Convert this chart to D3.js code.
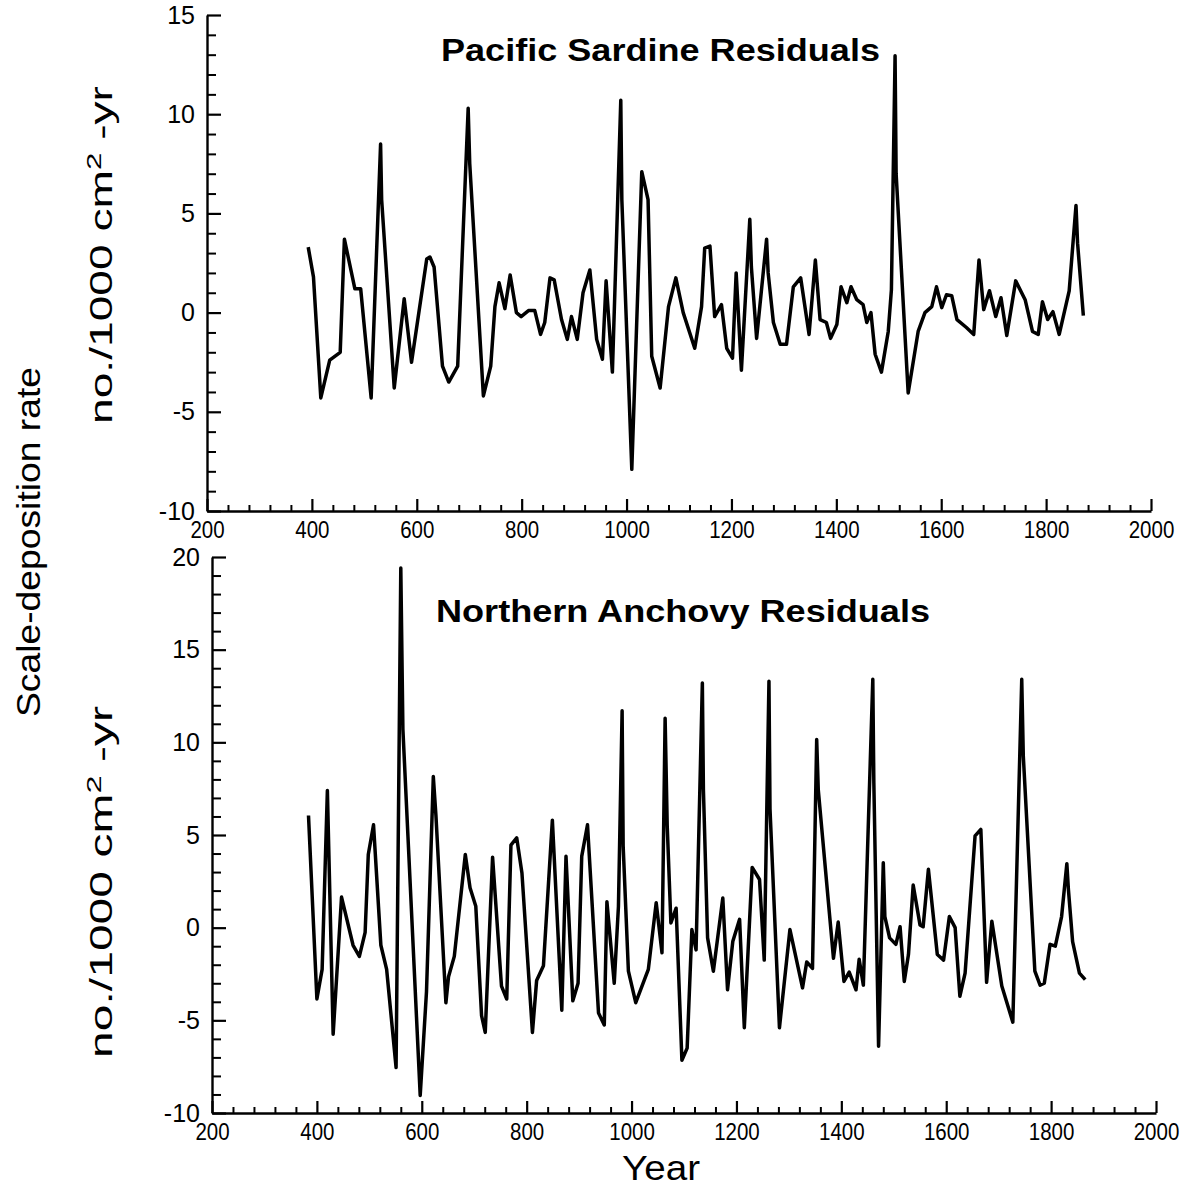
<!DOCTYPE html>
<html>
<head>
<meta charset="utf-8">
<script src="https://cdn.jsdelivr.net/npm/d3@7"></script>
<style>
  html, body { margin: 0; padding: 0; background: #fff; }
  svg { display: block; }
  text { font-family: "Liberation Sans", Arial, Helvetica, sans-serif; fill: #000; }
</style>
</head>
<body>
<svg id="chart" width="1188" height="1189"></svg>
<script>
// ---------------- DATA ----------------
const xTickValues = [200, 400, 600, 800, 1000, 1200, 1400, 1600, 1800, 2000];
const sardineYTicks = [-10, -5, 0, 5, 10, 15];
const anchovyYTicks = [-10, -5, 0, 5, 10, 15, 20];

const sardineYears = [393,403,417,434,454,462,482,493,513,531,533,557,576,590,619,625,633,649,661,678,698,701,727,741,749,757,768,778,790,799,813,825,836,844,854,862,876,887,895,906,917,930,943,954,961,973,989,991,1010,1029,1041,1048,1064,1080,1094,1108,1130,1143,1149,1159,1168,1181,1191,1202,1209,1219,1235,1238,1248,1267,1270,1280,1293,1305,1318,1332,1348,1360,1369,1381,1389,1401,1409,1420,1428,1439,1451,1458,1466,1474,1486,1499,1505,1512,1514,1537,1556,1569,1582,1591,1601,1610,1620,1630,1648,1662,1672,1681,1692,1704,1714,1725,1742,1760,1774,1785,1793,1803,1813,1825,1844,1857,1860,1871];
const sardineValues = [3.3,1.8,-4.3,-2.4,-2.0,3.7,1.2,1.2,-4.3,8.5,5.7,-3.8,0.7,-2.5,2.7,2.8,2.3,-2.7,-3.5,-2.7,10.3,7.5,-4.2,-2.7,0.3,1.5,0.2,1.9,0.0,-0.2,0.1,0.1,-1.1,-0.5,1.75,1.65,-0.35,-1.35,-0.2,-1.35,1.0,2.15,-1.35,-2.35,1.6,-3.0,10.7,5.7,-7.9,7.1,5.7,-2.2,-3.8,0.3,1.75,0.0,-1.8,0.3,3.25,3.35,-0.2,0.4,-1.8,-2.3,2.0,-2.9,4.7,2.3,-1.3,3.7,2.0,-0.5,-1.6,-1.6,1.3,1.75,-1.1,2.65,-0.35,-0.5,-1.3,-0.6,1.3,0.5,1.3,0.65,0.4,-0.5,0.0,-2.1,-3.0,-0.95,1.15,12.95,7.0,-4.05,-0.95,0.0,0.3,1.3,0.25,0.9,0.85,-0.35,-0.75,-1.1,2.65,0.15,1.1,-0.2,0.75,-1.15,1.6,0.65,-0.95,-1.1,0.55,-0.35,0.05,-1.1,1.1,5.4,3.5,-0.15];

const anchovyYears = [384,400,410,420,431,447,469,481,492,498,508,522,533,551,560,564,597,609,622,627,646,651,662,683,692,703,714,721,735,752,762,770,781,791,811,819,832,849,867,875,888,898,905,916,937,948,953,967,975,982,984,994,1008,1032,1047,1058,1064,1068,1075,1085,1096,1106,1115,1123,1135,1137,1145,1156,1174,1183,1193,1206,1215,1230,1244,1253,1262,1264,1282,1302,1326,1334,1345,1353,1356,1385,1394,1405,1415,1428,1434,1442,1460,1462,1471,1480,1483,1492,1504,1512,1520,1528,1537,1550,1556,1566,1583,1595,1606,1617,1626,1636,1655,1666,1677,1687,1706,1727,1744,1747,1769,1779,1787,1798,1808,1820,1830,1833,1841,1854,1865];
const anchovyValues = [6.05,-3.85,-2.25,7.4,-5.75,1.65,-0.95,-1.55,-0.25,3.95,5.55,-0.95,-2.25,-7.55,19.4,10.7,-9.05,-3.45,8.15,6.05,-4.05,-2.65,-1.55,3.95,2.15,1.15,-4.75,-5.65,3.8,-3.15,-3.85,4.45,4.85,2.95,-5.65,-2.85,-2.05,5.8,-4.45,3.85,-3.95,-3.0,3.85,5.55,-4.6,-5.25,1.4,-3.0,1.15,11.7,4.4,-2.35,-4.05,-2.25,1.35,-1.35,11.3,5.5,0.25,1.05,-7.15,-6.5,-0.1,-1.2,13.2,7.45,-0.55,-2.35,1.6,-3.35,-0.75,0.45,-5.4,3.25,2.6,-1.75,13.3,6.4,-5.4,-0.1,-3.25,-1.85,-2.2,10.15,7.45,-1.65,0.3,-2.9,-2.4,-3.35,-1.7,-3.1,13.4,7.8,-6.4,3.5,0.6,-0.55,-0.9,0.05,-2.9,-1.45,2.3,0.15,0.05,3.15,-1.45,-1.75,0.6,0.0,-3.7,-2.45,4.95,5.3,-2.95,0.35,-3.15,-5.1,13.4,9.25,-2.35,-3.1,-3.0,-0.9,-1.0,0.6,3.45,2.05,-0.75,-2.45,-2.8];

const panels = [
  { title: "Pacific Sardine Residuals", years: sardineYears, values: sardineValues, yTicks: sardineYTicks },
  { title: "Northern Anchovy Residuals", years: anchovyYears, values: anchovyValues, yTicks: anchovyYTicks }
];

// ---------------- LAYOUT ----------------
const layout = [
  { xr: [207, 1151], yr: [511, 15], yd: [-10, 15], title: { x: 441, y: 61, len: 439 }, ylab: { x: 112, y: 255, len: 338 } },
  { xr: [212, 1156], yr: [1113, 557], yd: [-10, 20], title: { x: 436, y: 622, len: 494 }, ylab: { x: 112, y: 882, len: 352 } }
];

const svg = d3.select("#chart");
const fmt = d => String(d);

panels.forEach((p, i) => {
  const L = layout[i];
  const x = d3.scaleLinear().domain([200, 2000]).range(L.xr);
  const y = d3.scaleLinear().domain(L.yd).range(L.yr);
  const g = svg.append("g");

  // minor ticks
  const xMinor = d3.range(200, 2001, 40).filter(v => v % 200 !== 0);
  const yMinor = d3.range(L.yd[0], L.yd[1] + 1, 1).filter(v => v % 5 !== 0);

  g.append("g").attr("transform", `translate(0,${L.yr[0]})`)
    .call(d3.axisBottom(x).tickValues(xMinor).tickSizeInner(-6).tickSizeOuter(0).tickFormat(""))
    .call(s => s.select(".domain").remove())
    .call(s => s.selectAll("line").attr("stroke-width", 2));
  g.append("g").attr("transform", `translate(${L.xr[0]},0)`)
    .call(d3.axisLeft(y).tickValues(yMinor).tickSizeInner(-9).tickSizeOuter(0).tickFormat(""))
    .call(s => s.select(".domain").remove())
    .call(s => s.selectAll("line").attr("stroke-width", 2));

  // major x axis
  g.append("g").attr("transform", `translate(0,${L.yr[0]})`)
    .call(d3.axisBottom(x).tickValues(xTickValues).tickSizeInner(-12).tickSizeOuter(0).tickPadding(10).tickFormat(fmt))
    .call(s => s.select(".domain").attr("stroke-width", 2.4))
    .call(s => s.selectAll("line").attr("stroke-width", 2.2))
    .call(s => s.selectAll("text")
      .attr("font-size", 24)
      .attr("font-family", "Liberation Sans, Arial, sans-serif")
      .attr("textLength", d => String(d).length * 11.4)
      .attr("lengthAdjust", "spacingAndGlyphs"));

  // major y axis
  g.append("g").attr("transform", `translate(${L.xr[0]},0)`)
    .call(d3.axisLeft(y).tickValues(p.yTicks).tickSizeInner(-14).tickSizeOuter(0).tickPadding(12).tickFormat(fmt))
    .call(s => s.select(".domain").attr("stroke-width", 2.4))
    .call(s => s.selectAll("line").attr("stroke-width", 2.2))
    .call(s => s.selectAll("text").attr("font-size", 25).attr("font-family", "Liberation Sans, Arial, sans-serif"));

  // data line
  const pts = p.years.map((yr, k) => [yr, p.values[k]]);
  g.append("path")
    .datum(pts)
    .attr("fill", "none")
    .attr("stroke", "#000")
    .attr("stroke-width", 3.5)
    .attr("stroke-linejoin", "round")
    .attr("d", d3.line().x(d => x(d[0])).y(d => y(d[1])));

  // title
  g.append("text")
    .attr("x", L.title.x).attr("y", L.title.y)
    .attr("font-size", 32).attr("font-weight", "bold")
    .attr("textLength", L.title.len).attr("lengthAdjust", "spacingAndGlyphs")
    .text(p.title);

  // y unit label
  const t = g.append("text")
    .attr("transform", `translate(${L.ylab.x},${L.ylab.y}) rotate(-90)`)
    .attr("text-anchor", "middle")
    .attr("font-size", 31)
    .attr("textLength", L.ylab.len).attr("lengthAdjust", "spacingAndGlyphs");
  t.append("tspan").text("no./1000 cm");
  t.append("tspan").attr("font-size", 21).attr("dy", -11).text("2");
  t.append("tspan").attr("dy", 11).text(" -yr");
});

// shared labels
svg.append("text")
  .attr("transform", "translate(40,542) rotate(-90)")
  .attr("text-anchor", "middle")
  .attr("font-size", 33)
  .attr("textLength", 350).attr("lengthAdjust", "spacingAndGlyphs")
  .text("Scale-deposition rate");

svg.append("text")
  .attr("x", 661).attr("y", 1180)
  .attr("text-anchor", "middle")
  .attr("font-size", 35)
  .attr("textLength", 78).attr("lengthAdjust", "spacingAndGlyphs")
  .text("Year");
</script>
</body>
</html>
